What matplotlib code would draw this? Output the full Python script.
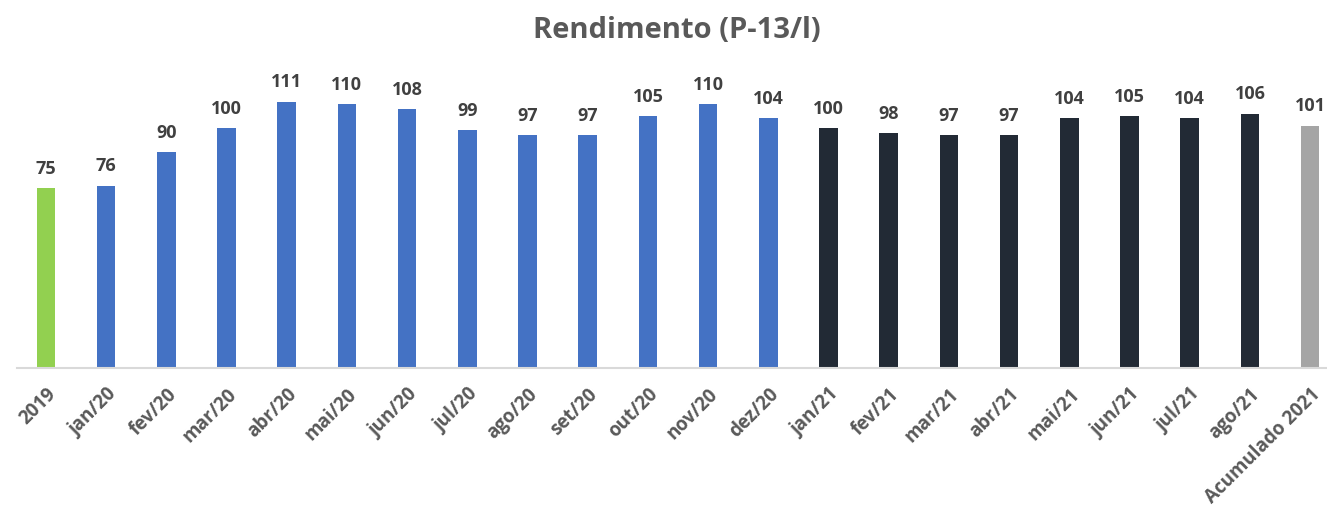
import matplotlib.pyplot as plt
import numpy as np

CATEGORIES = [
    "2019",
    "jan/20", "fev/20", "mar/20", "abr/20", "mai/20", "jun/20",
    "jul/20", "ago/20", "set/20", "out/20", "nov/20", "dez/20",
    "jan/21", "fev/21", "mar/21", "abr/21", "mai/21", "jun/21",
    "jul/21", "ago/21", "Acumulado 2021",
]
VALUES = [75, 76, 90, 100, 111, 110, 108, 99, 97, 97, 105, 110, 104,
          100, 98, 97, 97, 104, 105, 104, 106, 101]
GROUPS = ["2019"] + ["2020"] * 12 + ["2021"] * 8 + ["acc"]

GROUP_COLORS = {
    "2019": "#92D050",
    "2020": "#4472C4",
    "2021": "#222A35",
    "acc": "#A5A5A5",
}

plt.rcParams["font.family"] = ["Open Sans", "DejaVu Sans"]

fig = plt.figure(figsize=(13.27, 5.06), dpi=100)
ax = fig.add_axes([17 / 1327, 137 / 506, 1310 / 1327, 360 / 506])

x = np.arange(len(CATEGORIES))
colors = [GROUP_COLORS[g] for g in GROUPS]
bars = ax.bar(x, VALUES, width=0.31, color=colors, zorder=2)

for rect, v in zip(bars, VALUES):
    ax.annotate(
        f"{v}",
        (rect.get_x() + rect.get_width() / 2, v),
        xytext=(0, 8),
        textcoords="offset points",
        ha="center",
        va="bottom",
        fontsize=13,
        fontweight="bold",
        color="#404040",
    )

ax.set_xlim(-0.48, 21.28)
ax.set_ylim(0, 150)
ax.set_xticks(x)
ax.set_xticklabels(CATEGORIES, rotation=45, ha="right", rotation_mode="anchor",
                   fontsize=13.5, fontweight="bold", color="#595959")
ax.tick_params(axis="x", length=0, pad=11)
ax.set_yticks([])
for side in ("top", "right", "left"):
    ax.spines[side].set_visible(False)
ax.spines["bottom"].set_color("#D9D9D9")
ax.spines["bottom"].set_linewidth(1.5)

fig.text(677 / 1327, 1 - 31 / 506, "Rendimento (P-13/l)", ha="center", va="center",
         fontsize=21, fontweight="bold", color="#595959")

fig.savefig("out.png", dpi=100)
